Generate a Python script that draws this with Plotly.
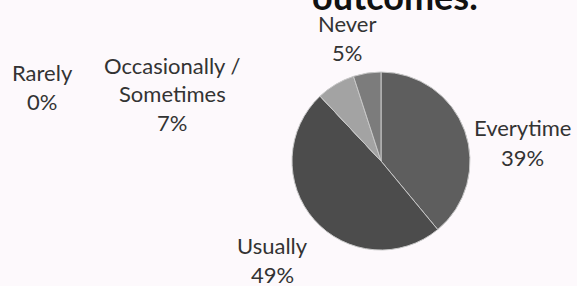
import plotly.graph_objects as go

categories = ["Everytime", "Usually", "Rarely", "Occasionally /<br>Sometimes", "Never"]
values = [39, 49, 0, 7, 5]
pct_labels = ["39%", "49%", "0%", "7%", "5%"]
colors = ["#5e5e5e", "#4c4c4c", "#6a6a6a", "#a3a3a3", "#7c7c7c"]
# label centre positions (pixels) for the outside labels
label_pos = [(522, 128), (272, 245), (42, 72), (172, 65), (347, 23)]

W, H = 577, 286
LINE = 29

fig = go.Figure()
fig.add_trace(go.Pie(
    labels=[c.replace("<br>", " ") for c in categories],
    values=values,
    sort=False,
    direction="clockwise",
    rotation=0,
    textinfo="none",
    hoverinfo="label+percent",
    marker=dict(colors=colors, line=dict(color="#c8c8c8", width=1)),
    domain=dict(x=[(381 - 89) / W, (381 + 89) / W], y=[1 - 250 / H, 1 - 72 / H]),
    showlegend=False,
))

annotations = []
for cat, pct, (px, py) in zip(categories, pct_labels, label_pos):
    lines = cat.split("<br>") + [pct]
    for i, ln in enumerate(lines):
        annotations.append(dict(
            text=ln, x=px / W, y=1 - (py + i * LINE) / H,
            xref="paper", yref="paper", xanchor="center", yanchor="middle",
            showarrow=False, font=dict(family="Lato", size=22, color="#333333"),
        ))

annotations.append(dict(
    text="<b>outcomes.</b>", x=395 / W, y=1 - 20 / H, xref="paper", yref="paper",
    xanchor="center", yanchor="bottom", showarrow=False,
    font=dict(family="Lato", size=36, color="#111111"),
))

fig.update_layout(
    width=W, height=H,
    margin=dict(l=0, r=0, t=0, b=0),
    paper_bgcolor="#fdf9fc",
    plot_bgcolor="#fdf9fc",
    annotations=annotations,
)

fig.write_html("out.html", config={"displayModeBar": False})
with open("out.html", "r", encoding="utf-8") as f:
    html = f.read()
html = html.replace("<head>", "<head><style>html,body{margin:0;padding:0;overflow:hidden;background:#fdf9fc;}</style>", 1)
with open("out.html", "w", encoding="utf-8") as f:
    f.write(html)
